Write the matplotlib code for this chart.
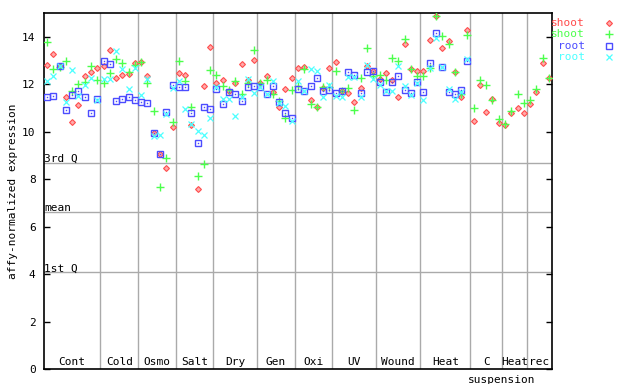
import numpy as np
import matplotlib
matplotlib.use("Agg")
import matplotlib.pyplot as plt
from matplotlib.lines import Line2D

# group names and number of samples per group
groups = ["Cont", "Cold", "Osmo", "Salt", "Dry", "Gen", "Oxi", "UV",
          "Wound", "Heat", "C", "Heat", "rec"]
group_sizes = [9, 6, 6, 6, 7, 6, 6, 7, 7, 8, 5, 4, 4]

# reference lines
q3, mean_val, q1 = 8.68, 6.61, 4.08

shoot_red = [12.81, 13.28, 12.75, 11.46, 10.40, 11.12, 12.34, 12.53, 12.69,
             12.77, 13.44, 12.26, 12.40, 12.43, 12.88,
             12.92, 12.34, 9.95, 9.05, 8.46, 10.19,
             12.48, 12.39, 10.28, 7.58, 11.92, 13.57,
             12.06, 12.18, 11.70, 12.06, 12.85, 12.16, 13.02,
             12.06, 12.36, 11.68, 11.04, 11.80, 12.26,
             12.68, 12.72, 11.32, 11.06, 11.85, 12.68,
             12.94, 11.70, 11.63, 11.25, 11.84, 12.77, 12.56,
             12.22, 12.47, 12.18, 11.46, 13.69, 12.64, 12.56,
             12.56, 13.86, 14.89, 13.53, 13.82, 12.53, 11.46, 14.28,
             10.45, 11.97, 10.83, 11.37, 10.36,
             10.28, 10.78, 10.99, 10.78,
             11.16, 11.67, 12.89, 12.26]
shoot_green = [13.78, 12.64, 12.74, 12.98, 11.73, 12.02, 12.10, 12.77, 12.19,
               12.06, 12.48, 13.06, 12.89, 12.53, 12.81,
               12.94, 12.06, 10.87, 7.66, 8.89, 10.40,
               12.98, 12.15, 11.04, 8.13, 8.63, 12.60,
               12.39, 11.92, 11.77, 12.15, 11.59, 12.05, 13.44,
               12.05, 12.16, 11.59, 11.30, 10.57, 11.75,
               11.92, 12.64, 11.16, 11.02, 11.88, 11.90,
               12.56, 11.71, 11.84, 10.91, 12.26, 13.53, 12.34,
               12.39, 12.18, 13.10, 12.98, 13.91, 12.64, 12.34,
               12.34, 12.70, 14.89, 14.03, 13.69, 12.53, 11.60, 14.07,
               10.99, 12.18, 11.97, 11.33, 10.53,
               10.32, 10.87, 11.59, 11.21,
               11.33, 11.80, 13.10, 12.26]
nan = np.nan
root_blue = [11.46, 11.50, 12.78, 10.92, 11.54, 11.73, 11.46, 10.78, 11.36,
             12.98, 12.86, 11.30, 11.37, 11.46, 11.35,
             11.26, 11.21, 9.95, 9.05, 10.83, 11.97,
             11.88, 11.88, 10.78, 9.52, 11.04, 10.95,
             11.80, 11.16, 11.67, 11.59, 11.30, 11.88, 11.92,
             11.88, 11.59, 11.92, 11.25, 10.78, 10.57,
             11.80, 11.71, 11.92, 12.26, 11.71, 11.75,
             11.63, 11.71, 12.51, 12.39, 11.63, 12.51, 12.56,
             12.09, 11.67, 12.09, 12.34, 11.75, 11.63, 12.09,
             11.67, 12.89, 14.16, 12.72, 11.67, 11.59, 11.75, 12.98,
             nan, nan, nan, nan, nan, nan, nan, nan, nan, nan, nan, nan, nan]
root_cyan = [12.15, 12.34, 12.78, 11.25, 12.60, 11.50, 11.97, 12.26, 11.35,
             12.22, 12.22, 13.40, 12.64, 11.80, 12.67,
             11.54, 12.22, 9.83, 9.86, 10.74, 11.82,
             12.13, 10.95, 10.32, 10.03, 9.86, 10.57,
             11.88, 11.37, 11.37, 10.66, 11.45, 12.22, 11.63,
             11.88, 11.59, 12.15, 11.20, 11.08, 10.45,
             12.13, 11.71, 12.64, 12.56, 11.46, 11.97,
             11.50, 11.46, 12.30, 12.30, 11.46, 12.81, 12.22,
             11.95, 11.70, 11.71, 12.77, 11.92, 11.54, 12.05,
             11.33, 12.68, 13.95, 12.72, 11.80, 11.37, 11.67, 13.06,
             nan, nan, nan, nan, nan, nan, nan, nan, nan, nan, nan, nan, nan]

RED, GREEN, BLUE, CYAN = "#ff4c4c", "#4cff4c", "#4c4cff", "#4cffff"
MONO = "DejaVu Sans Mono"

n = len(shoot_red)
x = np.arange(n) + 0.5

fig = plt.figure(figsize=(6.4, 3.84), dpi=100)
ax = fig.add_axes([44 / 640, 15 / 384, 508 / 640, 356 / 384])
ax.set_xlim(0, n)
ax.set_ylim(0, 15)

# group separators and labels
bounds = np.cumsum([0] + group_sizes)
for b in bounds[1:-1]:
    ax.axvline(b, color="#aaaaaa", lw=1, zorder=1)
for name, lo, hi in zip(groups, bounds[:-1], bounds[1:]):
    ax.text((lo + hi) / 2, 0.08, name, ha="center", va="bottom",
            fontsize=8, family=MONO, zorder=5)
ax.text(bounds[11], -0.25, "suspension", ha="center", va="top",
        fontsize=8, family=MONO, clip_on=False)

# quartile / mean lines
for val, lab in [(q3, "3rd Q"), (mean_val, "mean"), (q1, "1st Q")]:
    ax.axhline(val, color="#aaaaaa", lw=1, zorder=1)
    ax.text(0.0, val - 0.05, lab, ha="left", va="bottom", fontsize=8,
            family=MONO, zorder=5)

# marker styles
st_red = dict(marker="D", ms=3.0, mfc="#ffaaaa", mec=RED, mew=0.8)
st_green = dict(marker="+", ms=5.2, mec=GREEN, mew=1.0)
st_blue = dict(marker="s", ms=3.8, mfc="none", mec=BLUE, mew=1.0)
st_cyan = dict(marker="x", ms=3.8, mec=CYAN, mew=0.9)

ax.plot(x, shoot_red, ls="none", zorder=3, **st_red)
ax.plot(x, shoot_green, ls="none", zorder=3, **st_green)
ax.plot(x, root_blue, ls="none", zorder=3, **st_blue)
ax.plot(x, root_blue, ls="none", marker="s", ms=1.0, mfc=BLUE, mec=BLUE,
        mew=0, zorder=3)
ax.plot(x, root_cyan, ls="none", zorder=3, **st_cyan)

ax.set_xticks([])
ax.set_yticks(np.arange(0, 15, 2))
ax.tick_params(axis="y", direction="in", length=4, width=1, right=True,
               labelsize=8, pad=6)
for lab in ax.get_yticklabels():
    lab.set_family(MONO)
for s in ax.spines.values():
    s.set_linewidth(1.2)
ax.set_ylabel("affy-normalized expression", fontsize=8, family=MONO,
              labelpad=3)

# legend at the right, outside the axes
legend = [("shoot", RED, st_red), ("shoot", GREEN, st_green),
          ("root", BLUE, st_blue), ("root", CYAN, st_cyan)]
for k, (lab, col, mk) in enumerate(legend):
    yy = 1 - (23 + k * 11.4) / 384
    fig.text(585 / 640, yy, lab, color=col, ha="right", va="center",
             fontsize=8, family=MONO)
    fig.add_artist(Line2D([609 / 640], [yy], transform=fig.transFigure,
                          ls="none", **mk))

fig.savefig("out.png", dpi=100)
